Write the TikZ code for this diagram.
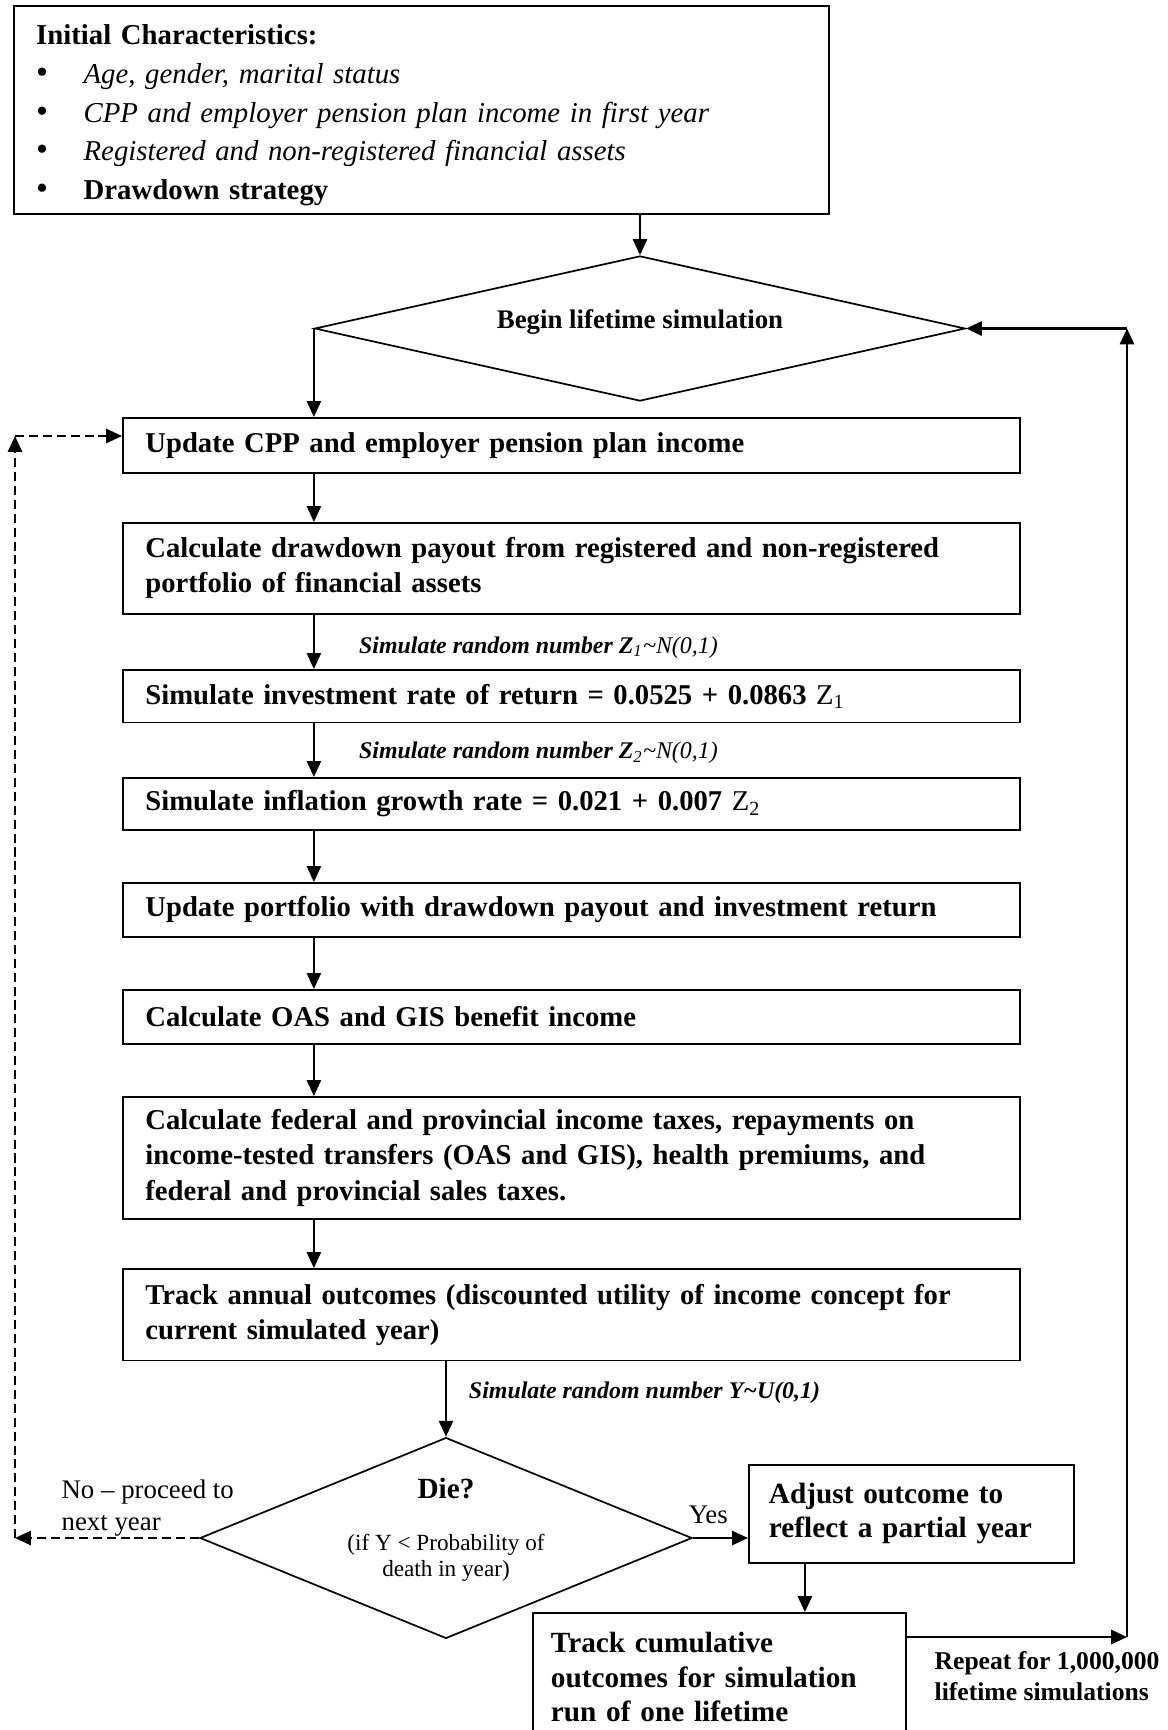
\documentclass[tikz,border=0pt]{standalone}
\usepackage{fontspec}
\setmainfont{Liberation Serif}
\usetikzlibrary{shapes.geometric,arrows.meta,positioning}

\newcommand{\itembullet}{\makebox[19.5pt][l]{\fontsize{14}{14}\selectfont\textbullet}}

\begin{document}
\begin{tikzpicture}[
  x=0.0144cm, y=-0.0144cm,
  box/.style={rectangle, draw, line width=0.7pt, anchor=north west, minimum width=12.92cm, text width=12.27cm, inner xsep=0.32cm, align=left, font=\fontsize{11.75}{14.4}\selectfont\bfseries},
  sidebox/.style={rectangle, draw, line width=0.7pt, anchor=north west, align=left, font=\fontsize{12}{14}\selectfont\bfseries},
  decision/.style={diamond, draw, line width=0.7pt, inner sep=0pt, align=center},
  arrow/.style={line width=0.8pt, -{Triangle[length=6.5pt,width=5.8pt]}},
  looparrow/.style={arrow, line width=1.1pt},
  dasharrow/.style={arrow, line width=0.9pt, dash pattern=on 3.7pt off 2pt},
  note/.style={font=\fontsize{9.8}{12}\selectfont\bfseries\itshape}
]
\useasboundingbox (0,0) rectangle (1168,1730);

% Start of the model
\node[sidebox, minimum width=11.74cm, minimum height=3.0cm, text width=11.1cm, inner xsep=0.32cm, inner ysep=0pt, font=\fontsize{11.8}{15.8}\selectfont] (init) at (13,5) {\rule{0pt}{12.5pt}\textbf{Initial Characteristics:}\\
\itembullet\textit{Age, gender, marital status}\\
\itembullet\textit{CPP and employer pension plan income in first year}\\
\itembullet\textit{Registered and non-registered financial assets}\\
\itembullet\textbf{Drawdown strategy}};
\node[decision, aspect=4.5, minimum width=9.37cm, minimum height=2.09cm, font=\fontsize{11}{13}\selectfont\bfseries] (begin) at (640,328.5) {Begin lifetime simulation\rule[-8pt]{0pt}{0pt}};

% Yearly steps
\node[box, minimum height=0.79cm] (cpp) at (122,417) {Update CPP and employer pension plan income};
\node[box, minimum height=1.31cm] (payout) at (122,522) {Calculate drawdown payout from registered and non-registered\\portfolio of financial assets};
\node[box, minimum height=0.76cm] (invest) at (122,669) {Simulate investment rate of return = 0.0525 + 0.0863 {\mdseries Z\textsubscript{1}}};
\node[box, minimum height=0.75cm] (inflation) at (122,777) {Simulate inflation growth rate = 0.021 + 0.007 {\mdseries Z\textsubscript{2}}};
\node[box, minimum height=0.78cm] (portfolio) at (122,882) {Update portfolio with drawdown payout and investment return};
\node[box, minimum height=0.78cm] (benefit) at (122,989) {Calculate OAS and GIS benefit income};
\node[box, minimum height=1.757cm] (taxes) at (122,1096) {Calculate federal and provincial income taxes, repayments on\\income-tested transfers (OAS and GIS), health premiums, and\\federal and provincial sales taxes.};
\node[box, minimum height=1.32cm] (annual) at (122,1268) {Track annual outcomes (discounted utility of income concept for\\current simulated year)};

% End of year
\node[decision, aspect=2.45, minimum width=6.93cm, minimum height=2.82cm, font=\fontsize{9.5}{10.5}\selectfont] (die) at (446,1538) {{\fontsize{12}{14}\selectfont\bfseries Die?}\\[11pt](if Y < Probability of\\death in year)\rule[-9pt]{0pt}{0pt}};
\node[sidebox, minimum width=4.68cm, minimum height=1.41cm, text width=4.1cm, inner xsep=0.29cm] (adjust) at (748,1464) {Adjust outcome to\\reflect a partial year};
\node[sidebox, minimum width=5.37cm, minimum height=1.85cm, text width=4.85cm, inner xsep=0.26cm] (track) at (532,1612) {Track cumulative\\outcomes for simulation\\run of one lifetime};
\node[font=\fontsize{11}{13}\selectfont, align=left, anchor=south west] (nolabel) at (53,1545) {No – proceed to\\next year};
\node[font=\fontsize{10.5}{12.6}\selectfont\bfseries, align=left, anchor=north west] (repeat) at (926,1643) {Repeat for 1,000,000\\lifetime simulations};

\coordinate (loopr) at (1127,1637);
\coordinate (loopl) at (15,436);

% Connectors
\draw[arrow] (init.south -| begin.north) -- (begin.north);
\draw[arrow] (begin.west) -- (begin.west |- cpp.north);
\draw[arrow] (cpp.south -| begin.west) -- (payout.north -| begin.west);
\draw[arrow] (payout.south -| begin.west) -- node[note, right=0.52cm, pos=0.6] {Simulate random number Z\textsubscript{\mdseries 1}{\mdseries\textasciitilde N(0,1)}} (invest.north -| begin.west);
\draw[arrow] (invest.south -| begin.west) -- node[note, right=0.52cm, pos=0.55] {Simulate random number Z\textsubscript{\mdseries 2}{\mdseries\textasciitilde N(0,1)}} (inflation.north -| begin.west);
\draw[arrow] (inflation.south -| begin.west) -- (portfolio.north -| begin.west);
\draw[arrow] (portfolio.south -| begin.west) -- (benefit.north -| begin.west);
\draw[arrow] (benefit.south -| begin.west) -- (taxes.north -| begin.west);
\draw[arrow] (taxes.south -| begin.west) -- (annual.north -| begin.west);
\draw[arrow] (annual.south -| die.north) -- node[note, right=0.2cm, pos=0.42] {Simulate random number Y\textasciitilde U(0,1)} (die.north);
\draw[arrow] (die.east) -- node[above=2pt, pos=0.28, font=\fontsize{11}{13}\selectfont] {Yes} (die.east -| adjust.west);
\draw[arrow] ([xshift=0.82cm]adjust.south west) -- ([xshift=0.82cm]adjust.south west |- track.north);
\draw[looparrow] (track.east |- loopr) -- (loopr);
\draw[looparrow] (loopr) -- (loopr |- begin.east);
\draw[looparrow] (loopr |- begin.east) -- (begin.east);
\draw[dasharrow] (die.west) -- (die.west -| loopl);
\draw[dasharrow] (die.west -| loopl) -- (loopl);
\draw[dasharrow] (loopl) -- (loopl -| cpp.west);

\end{tikzpicture}
\end{document}
